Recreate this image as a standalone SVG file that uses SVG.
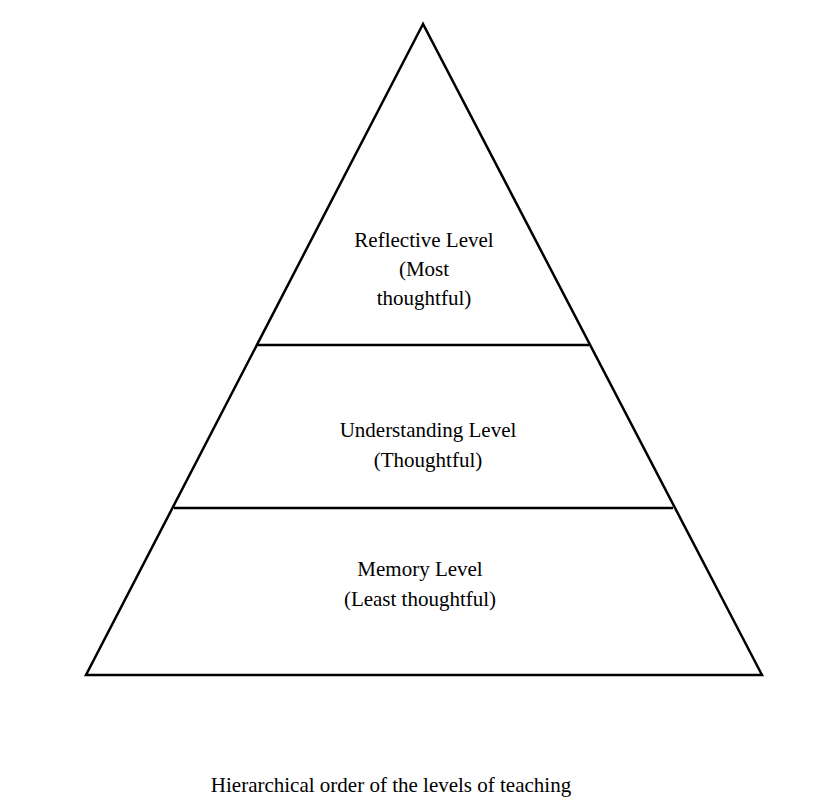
<svg xmlns="http://www.w3.org/2000/svg" width="827" height="811" viewBox="0 0 827 811">
<style>
.l{stroke:#000;stroke-width:2.5;fill:none}
text{font-family:"Liberation Serif",serif;font-size:21px;text-anchor:middle;fill:#000}
</style>
<rect width="827" height="811" fill="#fff"/>
<g id="connectors">
<polygon class="l" points="423,24 86,675 762,675"/>
<line class="l" x1="258" y1="345" x2="589" y2="345"/>
<line class="l" x1="174" y1="508" x2="673" y2="508"/>
</g>
<g id="reflective"><text x="424" y="247">Reflective Level</text><text x="424" y="276">(Most</text><text x="424" y="305">thoughtful)</text></g>
<g id="understanding"><text x="428" y="437">Understanding Level</text><text x="428" y="467">(Thoughtful)</text></g>
<g id="memory"><text x="420" y="576">Memory Level</text><text x="420" y="606">(Least thoughtful)</text></g>
<g id="caption"><text x="391" y="792">Hierarchical order of the levels of teaching</text></g>
</svg>
